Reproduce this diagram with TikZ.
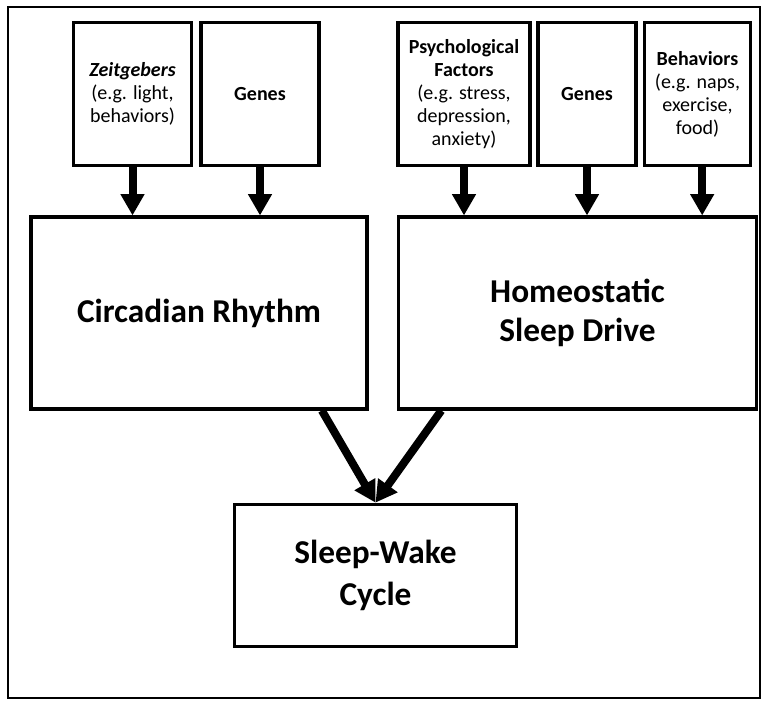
\documentclass[tikz,border=0pt]{standalone}
\usepackage{fontspec}
\setmainfont{Carlito}
\usetikzlibrary{arrows.meta,calc}
\tikzset{
  smallbox/.style={draw=black,line width=2.3pt,fill=white,minimum height=107pt,inner sep=0pt,align=center,font=\fontsize{15}{17.25}\selectfont},
  bigbox/.style={draw=black,line width=2.3pt,fill=white,inner sep=0pt,align=center,font=\fontsize{25}{29}\selectfont\bfseries},
  fatarrow/.style={line width=6pt,-{Triangle[width=17pt,length=16pt]}},
}
\begin{document}
\begin{tikzpicture}[x=0.75pt,y=-0.75pt]
\useasboundingbox (0,0) rectangle (762,700);
\draw[line width=2pt] (8,7) rectangle (760,698);
\node[smallbox,minimum width=89pt] (zeit) at (132.5,94) {\textbf{\textit{Zeitgebers}}\\(e.g. light,\\behaviors)};
\node[smallbox,minimum width=88.5pt] (genesa) at (260,94) {\textbf{Genes}};
\node[smallbox,minimum width=99pt] (psych) at (464,94) {\textbf{Psychological}\\\textbf{Factors}\\(e.g. stress,\\depression,\\anxiety)};
\node[smallbox,minimum width=73.5pt] (genesb) at (587,94) {\textbf{Genes}};
\node[smallbox,minimum width=80pt] (beh) at (697.5,94) {\textbf{Behaviors}\\(e.g. naps,\\exercise,\\food)};
\node[bigbox,minimum width=252pt,minimum height=144pt] (circ) at (199,313) {Circadian Rhythm};
\node[bigbox,minimum width=268pt,minimum height=144pt] (homeo) at (577.5,313) {Homeostatic\\Sleep Drive};
\node[bigbox,minimum width=212pt,minimum height=107pt,font=\fontsize{25}{31}\selectfont\bfseries] (sw) at (375.5,575.5) {Sleep-Wake\\Cycle};
\draw[fatarrow] (zeit.south) -- (zeit.south |- circ.north);
\draw[fatarrow] (genesa.south) -- (genesa.south |- circ.north);
\draw[fatarrow] (psych.south) -- (psych.south |- homeo.north);
\draw[fatarrow] (genesb.south) -- (genesb.south |- homeo.north);
\draw[fatarrow] ([xshift=3.5pt]beh.south) -- ([xshift=3.5pt]beh.south |- homeo.north);
\coordinate (cl) at ([xshift=-35pt]circ.south east);
\coordinate (hr) at ([xshift=33pt]homeo.south west);
\draw[fatarrow] (cl) -- (sw.north);
\draw[fatarrow] (hr) -- (sw.north);
\end{tikzpicture}
\end{document}
